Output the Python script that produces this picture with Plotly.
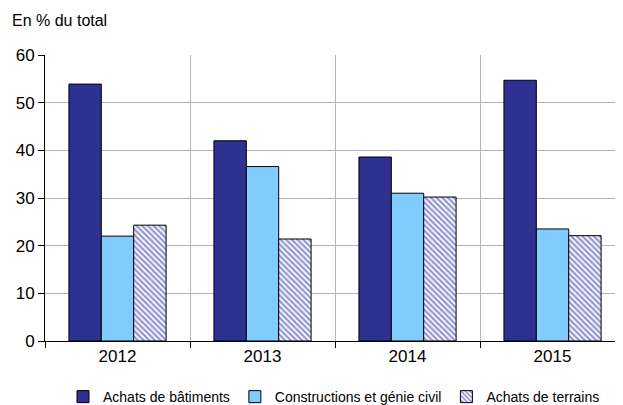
import plotly.graph_objects as go

years = ["2012", "2013", "2014", "2015"]
batiments = [53.9, 42.0, 38.6, 54.7]
constructions = [22.0, 36.6, 31.0, 23.5]
terrains = [24.3, 21.4, 30.2, 22.1]
y_ticks = [0, 10, 20, 30, 40, 50, 60]

fig = go.Figure()
fig.add_trace(go.Bar(x=years, y=batiments, name="Achats de bâtiments",
                     marker=dict(color="#2E3192", line=dict(color="#000000", width=1))))
fig.add_trace(go.Bar(x=years, y=constructions, name="Constructions et génie civil",
                     marker=dict(color="#80CCFF", line=dict(color="#000000", width=1))))
fig.add_trace(go.Bar(x=years, y=terrains, name="Achats de terrains",
                     marker=dict(color="#FFFFFF", line=dict(color="#000000", width=1),
                                 pattern=dict(shape="\\", fgcolor="#2A2AA8", bgcolor="#FFFFFF",
                                              size=4, solidity=0.55))))

fig.update_layout(
    width=615, height=397,
    margin=dict(l=37, r=0, t=47, b=64, autoexpand=False),
    paper_bgcolor="white", plot_bgcolor="white",
    barmode="group", bargap=0.33, bargroupgap=0,
    font=dict(family="Liberation Sans, Arial", size=17, color="#000000"),
    showlegend=True,
    legend=dict(orientation="h", x=0.5, xanchor="center", y=-0.14, yanchor="top",
                font=dict(size=14), itemwidth=30, tracegroupgap=0),
    annotations=[dict(text="En % du total", xref="paper", yref="paper", x=-0.06, y=1.122,
                      xanchor="left", yanchor="middle", showarrow=False,
                      font=dict(size=16))],
)
fig.update_xaxes(type="category", tickson="boundaries", showgrid=True, gridcolor="#B4B4B4",
                 gridwidth=1, ticks="outside", ticklen=6, tickcolor="#000000",
                 showline=True, linecolor="#000000", linewidth=1,
                 range=[-0.5, 3.486])
fig.update_yaxes(range=[0, 60], tickvals=y_ticks, showgrid=True, gridcolor="#B4B4B4",
                 gridwidth=1, ticks="outside", ticklen=6, tickcolor="#000000",
                 showline=True, linecolor="#000000", linewidth=1, zeroline=False)

fig.write_html("out.html")
